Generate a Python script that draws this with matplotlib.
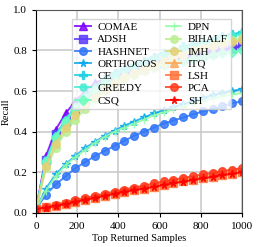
import matplotlib
matplotlib.use("Agg")
import matplotlib.pyplot as plt
import numpy as np

plt.rcParams['font.family'] = ['Liberation Serif', 'DejaVu Serif']

x = [0, 48, 95, 143, 190, 238, 286, 333, 381, 429, 476,
     524, 571, 619, 667, 714, 762, 810, 857, 905, 952, 1000]

methods = ['COMAE', 'ADSH', 'HASHNET', 'ORTHOCOS', 'CE', 'GREEDY', 'CSQ',
           'DPN', 'BIHALF', 'IMH', 'ITQ', 'LSH', 'PCA', 'SH']
markers = ['^', 's', 'o', '*', 'P', 'H', 'D', '+', 'o', 'o', '^', 's', 'o', '*']

comae = [0.02, 0.28, 0.41, 0.49, 0.55, 0.60, 0.64, 0.66, 0.68, 0.70, 0.72,
         0.73, 0.74, 0.75, 0.76, 0.77, 0.78, 0.79, 0.80, 0.805, 0.81, 0.82]
adsh = [0.02, 0.26, 0.39, 0.45, 0.51, 0.56, 0.60, 0.63, 0.66, 0.68, 0.70,
        0.71, 0.73, 0.74, 0.75, 0.76, 0.77, 0.78, 0.79, 0.80, 0.81, 0.83]
hashnet = [0.02, 0.09, 0.14, 0.18, 0.22, 0.25, 0.28, 0.305, 0.33, 0.355, 0.38,
           0.40, 0.42, 0.44, 0.455, 0.47, 0.485, 0.50, 0.51, 0.525, 0.54, 0.55]
orthocos = [0.02, 0.12, 0.19, 0.24, 0.28, 0.32, 0.35, 0.38, 0.405, 0.43, 0.45,
            0.47, 0.49, 0.505, 0.52, 0.535, 0.55, 0.565, 0.58, 0.59, 0.60, 0.61]
ce = [0.02, 0.25, 0.38, 0.46, 0.52, 0.58, 0.62, 0.66, 0.69, 0.71, 0.73,
      0.75, 0.77, 0.79, 0.80, 0.82, 0.83, 0.84, 0.85, 0.87, 0.88, 0.89]
greedy = [0.02, 0.26, 0.38, 0.46, 0.52, 0.57, 0.61, 0.65, 0.68, 0.70, 0.72,
          0.74, 0.76, 0.78, 0.79, 0.81, 0.82, 0.83, 0.84, 0.86, 0.87, 0.88]
csq = [0.02, 0.25, 0.37, 0.45, 0.51, 0.56, 0.60, 0.63, 0.65, 0.67, 0.69,
       0.71, 0.72, 0.73, 0.74, 0.75, 0.76, 0.77, 0.78, 0.79, 0.795, 0.80]
dpn = [0.02, 0.11, 0.18, 0.235, 0.275, 0.31, 0.345, 0.375, 0.40, 0.42, 0.44,
       0.46, 0.48, 0.495, 0.51, 0.525, 0.54, 0.55, 0.565, 0.575, 0.585, 0.59]
bihalf = [0.02, 0.22, 0.32, 0.40, 0.46, 0.51, 0.56, 0.60, 0.63, 0.66, 0.68,
          0.70, 0.72, 0.74, 0.76, 0.78, 0.80, 0.81, 0.83, 0.84, 0.85, 0.86]
imh = [0.02, 0.23, 0.34, 0.42, 0.48, 0.53, 0.57, 0.61, 0.64, 0.67, 0.69,
       0.71, 0.73, 0.75, 0.77, 0.78, 0.80, 0.81, 0.82, 0.83, 0.84, 0.85]
itq = [0.02, 0.03, 0.04, 0.05, 0.06, 0.07, 0.08, 0.09, 0.10, 0.11, 0.12,
       0.13, 0.14, 0.145, 0.155, 0.165, 0.17, 0.18, 0.19, 0.20, 0.205, 0.21]
lsh = [0.02, 0.027, 0.035, 0.045, 0.055, 0.065, 0.075, 0.085, 0.095, 0.105, 0.113,
       0.12, 0.13, 0.138, 0.147, 0.155, 0.163, 0.17, 0.178, 0.186, 0.193, 0.20]
pca = [0.02, 0.03, 0.04, 0.05, 0.062, 0.073, 0.084, 0.095, 0.105, 0.115, 0.125,
       0.135, 0.145, 0.155, 0.163, 0.172, 0.181, 0.19, 0.198, 0.206, 0.213, 0.22]
sh = [0.02, 0.026, 0.034, 0.044, 0.054, 0.064, 0.074, 0.084, 0.094, 0.104, 0.112,
      0.12, 0.128, 0.137, 0.146, 0.154, 0.162, 0.17, 0.178, 0.186, 0.193, 0.20]

series = [comae, adsh, hashnet, orthocos, ce, greedy, csq,
          dpn, bihalf, imh, itq, lsh, pca, sh]
colors = plt.cm.rainbow(np.linspace(0, 1, len(methods)))

fig = plt.figure(figsize=(2.58, 2.47), dpi=100)
ax = fig.add_axes([0.14, 0.138, 0.798, 0.822])

for name, y, m, c in zip(methods, series, markers, colors):
    ax.plot(x, y, marker=m, color=c, label=name, linewidth=1.4,
            markersize=5.5, alpha=0.85)

ax.set_xlim(0, 1000)
ax.set_ylim(0, 1.0)
ax.set_xticks([0, 200, 400, 600, 800, 1000])
ax.set_yticks([0.0, 0.2, 0.4, 0.6, 0.8, 1.0])
ax.grid(True, color='#c8c8c8', linewidth=1.1)
ax.set_axisbelow(True)
ax.tick_params(labelsize=8, length=3)
ax.set_xlabel('Top Returned Samples', fontsize=7.5, labelpad=2)
ax.set_ylabel('Recall', fontsize=7.5, labelpad=2)
for s in ['top', 'right']:
    ax.spines[s].set_color('#555555')

ax.legend(ncol=2, fontsize=8, loc='upper right', bbox_to_anchor=(0.975, 0.982),
          framealpha=0.8, handlelength=1.4, handletextpad=0.6,
          columnspacing=0.8, labelspacing=0.22, borderpad=0.3,
          fancybox=False, edgecolor='#cccccc')

fig.savefig('out.png', dpi=100)
